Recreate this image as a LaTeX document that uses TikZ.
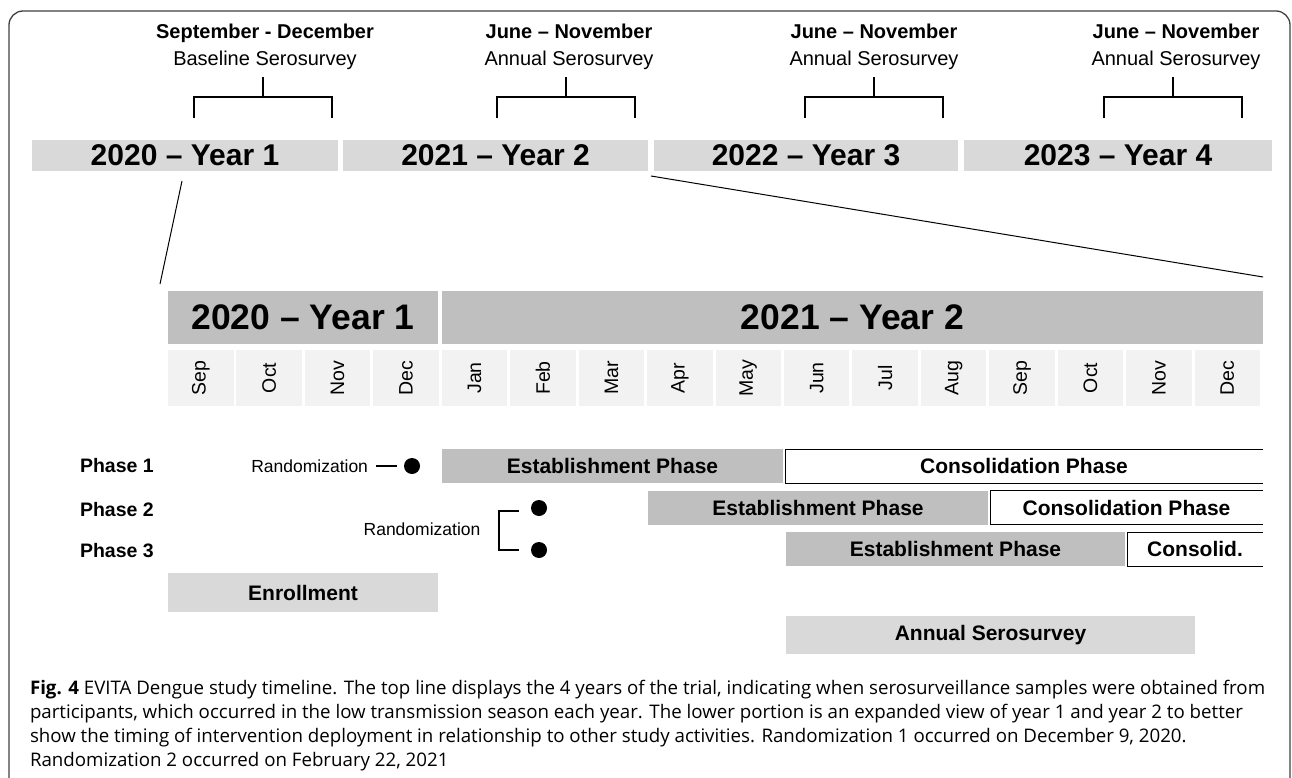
\documentclass[tikz,border=0pt]{standalone}
\usepackage{fontspec}
\setmainfont{Liberation Sans}
\newfontfamily\capfont{Open Sans}
\definecolor{barlight}{HTML}{D9D9D9}
\definecolor{bardark}{HTML}{BFBFBF}
\definecolor{cellgray}{HTML}{F2F2F2}
\definecolor{framegray}{HTML}{404040}
\begin{document}
\begin{tikzpicture}[x=1pt,y=-1pt,
  every node/.style={inner sep=0pt, outer sep=0pt},
  topbar/.style={fill=barlight, minimum height=31pt, font=\fontsize{30}{30}\selectfont\bfseries},
  lowbar/.style={fill=bardark, minimum height=53pt, font=\fontsize{35.5}{35.5}\selectfont\bfseries},
  hdr/.style={align=center, font=\fontsize{20}{27}\selectfont},
  monthcell/.style={fill=cellgray, minimum width=65.5pt, minimum height=56pt},
  monthtxt/.style={rotate=90, font=\fontsize{19.5}{19.5}\selectfont},
  estbox/.style={fill=bardark, minimum height=34pt, font=\fontsize{21}{21}\selectfont\bfseries},
  conbox/.style={minimum height=34pt, font=\fontsize{21}{21}\selectfont\bfseries},
  actbox/.style={fill=barlight, minimum height=39pt, font=\fontsize{21}{21}\selectfont\bfseries},
  phaselbl/.style={anchor=west, font=\fontsize{19.5}{19.5}\selectfont\bfseries},
  randlbl/.style={font=\fontsize{17.5}{17.5}\selectfont},
  dot/.style={circle, fill=black, minimum size=16pt},
  brk/.style={line width=1.5pt},
  thin/.style={line width=1pt},
  captxt/.style={anchor=west, font=\capfont\fontsize{18.7}{24}\selectfont}
]
\useasboundingbox (0,0) rectangle (1292,778);

% frame
\draw[framegray, line width=1.3pt, rounded corners=14pt] (9,778) -- (9,11) -- (1290,11) -- (1290,778);

% headers
\node[hdr] (h1) at (265,46.5) {\textbf{September - December}\\Baseline Serosurvey};
\node[hdr] (h2) at (569,46.5) {\textbf{June – November}\\Annual Serosurvey};
\node[hdr] (h3) at (874,46.5) {\textbf{June – November}\\Annual Serosurvey};
\node[hdr] (h4) at (1176,46.5) {\textbf{June – November}\\Annual Serosurvey};
\foreach \n/\x in {1/263,2/566,3/874,4/1173}{
  \coordinate (s\n) at (\x,77);
  \draw[brk] (s\n) -- ++(0,20);
  \draw[brk] (s\n) ++(-69,41) -- ++(0,-21) -- ++(138,0) -- ++(0,21);
}

% top year bars
\node[topbar, minimum width=306pt] (y1) at (185,155.5) {2020 – Year 1};
\node[topbar, minimum width=305pt] (y2) at (495.5,155.5) {2021 – Year 2};
\node[topbar, minimum width=304pt] (y3) at (806,155.5) {2022 – Year 3};
\node[topbar, minimum width=308pt] (y4) at (1118,155.5) {2023 – Year 4};

% expansion lines
\coordinate (e1a) at (182,181);
\coordinate (e1b) at (160,284);
\coordinate (e2a) at (651,176);
\coordinate (e2b) at (1263,277);
\draw[thin] (e1a) -- (e1b);
\draw[thin] (e2a) -- (e2b);

% lower year bars
\node[lowbar, minimum width=270pt] (ly1) at (303,317.5) {2020 – Year 1};
\node[lowbar, minimum width=821pt] (ly2) at (852.5,317.5) {2021 – Year 2};

% months
\foreach \m [count=\i from 0] in {Sep,Oct,Nov,Dec,Jan,Feb,Mar,Apr,May,Jun,Jul,Aug,Sep,Oct,Nov,Dec}{
  \node[monthcell] (m\i) at ({168+32.75+\i*68.44},378) {};
  \node[monthtxt] (mt\i) at (m\i) {\m};
}

% phase labels
\node[phaselbl] (p1) at (80,466) {Phase 1};
\node[phaselbl] (p2) at (80,510) {Phase 2};
\node[phaselbl] (p3) at (80,551) {Phase 3};

% phase 1
\node[estbox, minimum width=341pt] (est1) at (612.5,466) {Establishment Phase};
\node[conbox, minimum width=478pt] (con1) at (1024,466) {Consolidation Phase};
\draw[thin] (con1.north east) -- (con1.north west) -- (con1.south west) -- (con1.south east);
% phase 2
\node[estbox, minimum width=340pt] (est2) at (818,507.5) {Establishment Phase};
\node[conbox, minimum width=273pt] (con2) at (1126.5,507.5) {Consolidation Phase};
\draw[thin] (con2.north east) -- (con2.north west) -- (con2.south west) -- (con2.south east);
% phase 3
\node[estbox, minimum width=339pt] (est3) at (955.5,549) {Establishment Phase};
\node[conbox, minimum width=136pt] (con3) at (1195,549) {Consolid.};
\draw[thin] (con3.north east) -- (con3.north west) -- (con3.south west) -- (con3.south east);

% randomization 1
\node[randlbl, anchor=east] (r1) at (368,466) {Randomization};
\node[dot] (d1) at (412,466) {};
\draw[brk] ([xshift=8pt]r1.east) -- ([xshift=-7pt]d1.west);

% randomization 2
\node[randlbl] (r2) at (422,529) {Randomization};
\node[dot] (d2) at (539,508) {};
\node[dot] (d3) at (539,550) {};
\coordinate (bt) at (519,511);
\coordinate (bb) at (519,550);
\draw[brk] (bt) -- (499,511) -- (499,550) -- (bb);

% activities
\node[actbox, minimum width=270pt] (enr) at (303,592.5) {Enrollment};
\node[actbox, minimum width=409pt, minimum height=38pt] (ann) at (990.5,635) {Annual Serosurvey};

% caption
\node[captxt] (c1) at (30,690) {{\bfseries Fig. 4} EVITA Dengue study timeline. The top line displays the 4 years of the trial, indicating when serosurveillance samples were obtained from};
\node[captxt] (c2) at (30,714) {participants, which occurred in the low transmission season each year. The lower portion is an expanded view of year 1 and year 2 to better};
\node[captxt] (c3) at (30,738) {show the timing of intervention deployment in relationship to other study activities. Randomization 1 occurred on December 9, 2020.};
\node[captxt] (c4) at (30,762) {Randomization 2 occurred on February 22, 2021};
\end{tikzpicture}
\end{document}
